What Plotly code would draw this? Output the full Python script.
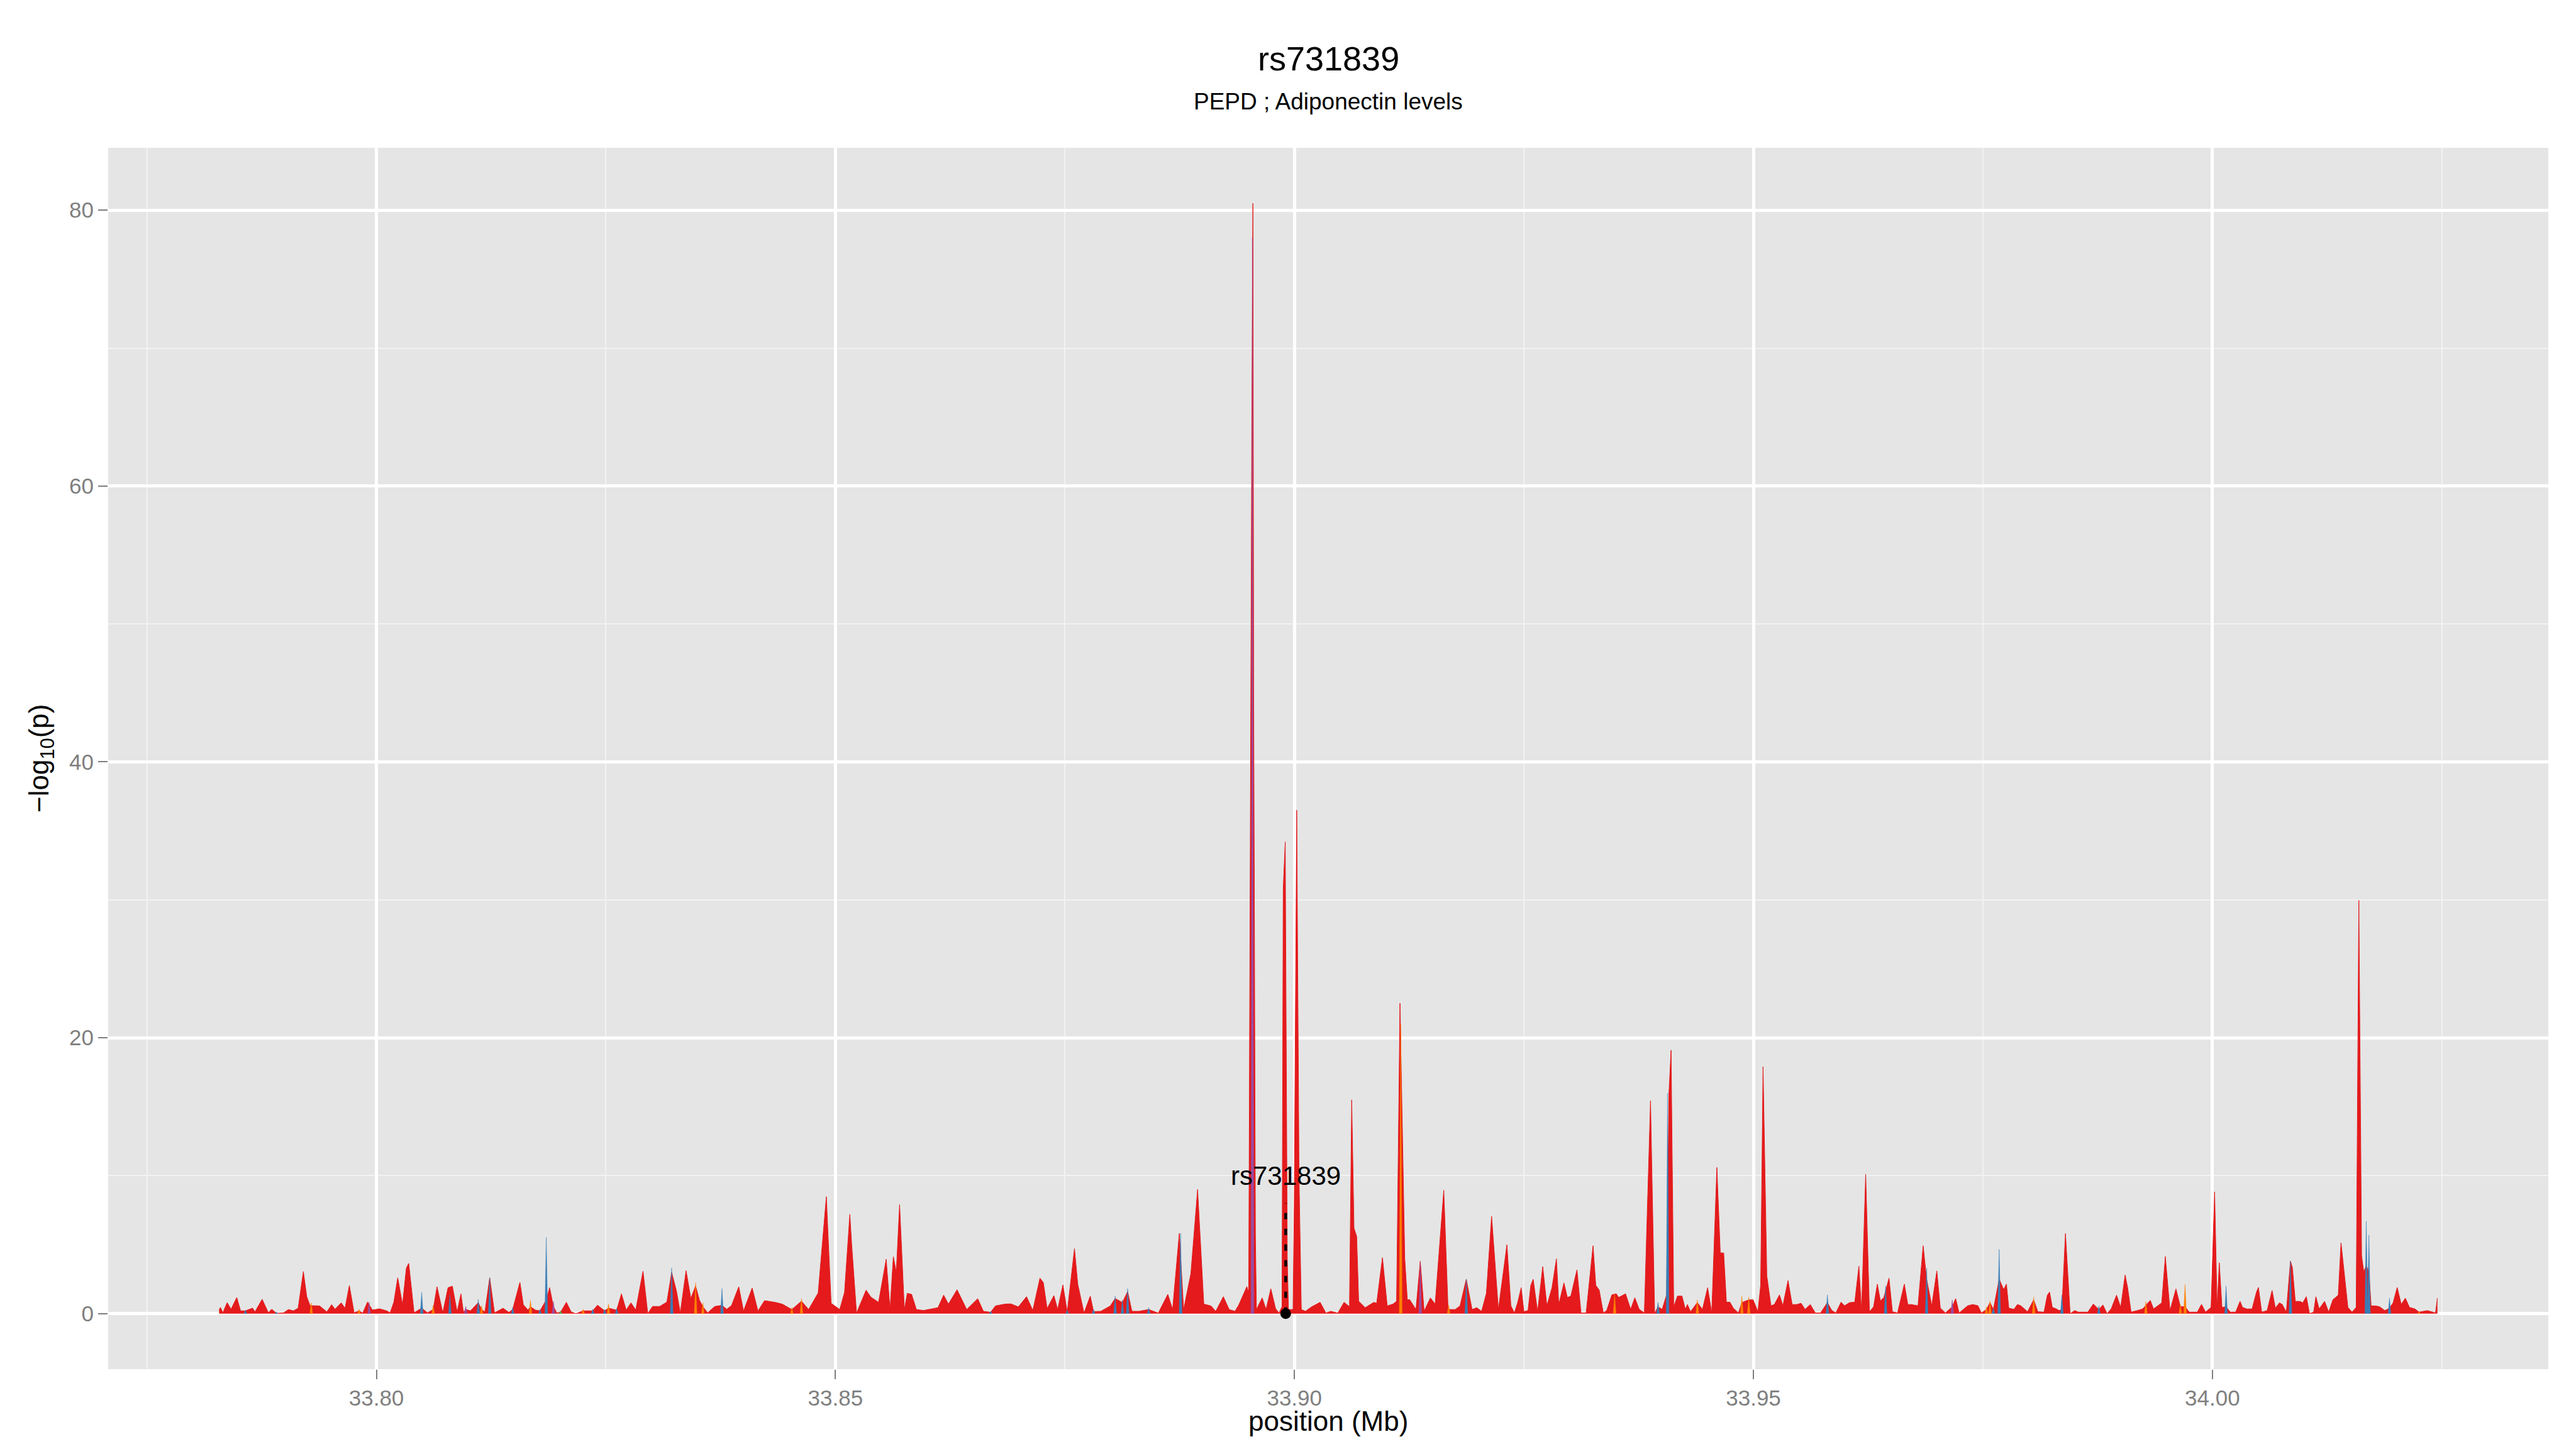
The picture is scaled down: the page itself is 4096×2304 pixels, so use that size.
import plotly.graph_objects as go

# ---------------- data ----------------
title_text = "rs731839"
subtitle_text = "PEPD ; Adiponectin levels"
x_title = "position (Mb)"
y_title = "\u2212log<sub>10</sub>(p)"

x_tick_vals = [33.80, 33.85, 33.90, 33.95, 34.00]
y_tick_vals = [0, 20, 40, 60, 80]

snp_name = "rs731839"
snp_pos = 33.89905
snp_logp = 0.0
snp_line_top = 8.0
snp_label_y = 10.0

# main (red) series: SNP position (Mb) and -log10(p)
red_pos = [
    33.78286, 33.78301, 33.78327, 33.78374, 33.78416, 33.78479, 33.78520, 33.78573,
    33.78651, 33.78677, 33.78755, 33.78823, 33.78859, 33.78911, 33.78990, 33.79042,
    33.79095, 33.79147, 33.79204, 33.79241, 33.79277, 33.79381, 33.79460, 33.79512,
    33.79549, 33.79616, 33.79658, 33.79705, 33.79757, 33.79810, 33.79851, 33.79903,
    33.79956, 33.80034, 33.80112, 33.80149, 33.80190, 33.80232, 33.80284, 33.80326,
    33.80352, 33.80389, 33.80410, 33.80493, 33.80556, 33.80618, 33.80660, 33.80723,
    33.80780, 33.80827, 33.80879, 33.80921, 33.80947, 33.80973, 33.81025, 33.81109,
    33.81145, 33.81182, 33.81234, 33.81286, 33.81380, 33.81443, 33.81484, 33.81563,
    33.81600, 33.81651, 33.81678, 33.81730, 33.81782, 33.81850, 33.81887, 33.81928,
    33.81965, 33.82006, 33.82069, 33.82121, 33.82173, 33.82252, 33.82356, 33.82408,
    33.82486, 33.82528, 33.82617, 33.82669, 33.82721, 33.82773, 33.82825, 33.82904,
    33.82956, 33.83008, 33.83086, 33.83164, 33.83216, 33.83269, 33.83310, 33.83373,
    33.83425, 33.83477, 33.83519, 33.83556, 33.83608, 33.83686, 33.83764, 33.83816,
    33.83868, 33.83947, 33.83999, 33.84093, 33.84156, 33.84228, 33.84343, 33.84421,
    33.84525, 33.84630, 33.84708, 33.84812, 33.84901, 33.84953, 33.85047, 33.85099,
    33.85157, 33.85177, 33.85230, 33.85334, 33.85386, 33.85470, 33.85553, 33.85595,
    33.85631, 33.85663, 33.85699, 33.85751, 33.85783, 33.85830, 33.85882, 33.85960,
    33.86117, 33.86179, 33.86231, 33.86325, 33.86430, 33.86550, 33.86612, 33.86691,
    33.86743, 33.86847, 33.86910, 33.86993, 33.87082, 33.87150, 33.87228, 33.87265,
    33.87306, 33.87380, 33.87421, 33.87478, 33.87525, 33.87604, 33.87640, 33.87708,
    33.87776, 33.87812, 33.87891, 33.87995, 33.88047, 33.88126, 33.88183, 33.88230,
    33.88308, 33.88412, 33.88517, 33.88621, 33.88673, 33.88746, 33.88793, 33.88872,
    33.88945, 33.89013, 33.89091, 33.89143, 33.89226, 33.89289, 33.89352, 33.89393,
    33.89482, 33.89502, 33.89530, 33.89536, 33.89548, 33.89556, 33.89575, 33.89586,
    33.89649, 33.89691, 33.89743, 33.89795, 33.89832, 33.89865, 33.89878, 33.89900,
    33.89922, 33.89935, 33.89985, 33.89998, 33.90025, 33.90050, 33.90075, 33.90120,
    33.90187, 33.90280, 33.90343, 33.90395, 33.90473, 33.90541, 33.90600, 33.90624,
    33.90649, 33.90678, 33.90700, 33.90771, 33.90865, 33.90896, 33.90959, 33.91011,
    33.91074, 33.91113, 33.91150, 33.91202, 33.91230, 33.91256, 33.91324, 33.91371,
    33.91413, 33.91481, 33.91533, 33.91627, 33.91674, 33.91752, 33.91804, 33.91872,
    33.91935, 33.91987, 33.92039, 33.92091, 33.92148, 33.92222, 33.92315, 33.92358,
    33.92396, 33.92433, 33.92470, 33.92500, 33.92545, 33.92575, 33.92601, 33.92649,
    33.92705, 33.92750, 33.92806, 33.92854, 33.92880, 33.92936, 33.92973, 33.93011,
    33.93078, 33.93122, 33.93178, 33.93253, 33.93283, 33.93320, 33.93365, 33.93402,
    33.93458, 33.93506, 33.93532, 33.93607, 33.93663, 33.93708, 33.93756, 33.93812,
    33.93879, 33.93924, 33.93961, 33.94006, 33.94054, 33.94080, 33.94103, 33.94132,
    33.94173, 33.94222, 33.94259, 33.94281, 33.94315, 33.94389, 33.94445, 33.94501,
    33.94546, 33.94602, 33.94639, 33.94676, 33.94706, 33.94744, 33.94781, 33.94837,
    33.94874, 33.94949, 33.94997, 33.95049, 33.95079, 33.95105, 33.95146, 33.95191,
    33.95228, 33.95284, 33.95321, 33.95377, 33.95422, 33.95470, 33.95519, 33.95563,
    33.95619, 33.95675, 33.95731, 33.95806, 33.95854, 33.95898, 33.95955, 33.95992,
    33.96048, 33.96104, 33.96149, 33.96178, 33.96223, 33.96264, 33.96309, 33.96350,
    33.96383, 33.96421, 33.96477, 33.96514, 33.96570, 33.96644, 33.96682, 33.96719,
    33.96793, 33.96849, 33.96887, 33.96943, 33.96998, 33.97036, 33.97092, 33.97166,
    33.97203, 33.97241, 33.97334, 33.97390, 33.97446, 33.97483, 33.97539, 33.97577,
    33.97614, 33.97677, 33.97726, 33.97756, 33.97782, 33.97838, 33.97876, 33.97913,
    33.97986, 33.98053, 33.98098, 33.98166, 33.98202, 33.98226, 33.98256, 33.98301,
    33.98330, 33.98360, 33.98399, 33.98435, 33.98450, 33.98500, 33.98539, 33.98584,
    33.98643, 33.98703, 33.98763, 33.98807, 33.98852, 33.98897, 33.98956, 33.99001,
    33.99049, 33.99076, 33.99114, 33.99180, 33.99240, 33.99275, 33.99323, 33.99359,
    33.99404, 33.99448, 33.99487, 33.99538, 33.99603, 33.99651, 33.99702, 33.99747,
    33.99836, 33.99881, 33.99925, 33.99985, 34.00024, 34.00051, 34.00075, 34.00104,
    34.00149, 34.00194, 34.00253, 34.00301, 34.00328, 34.00373, 34.00432, 34.00480,
    34.00501, 34.00537, 34.00596, 34.00650, 34.00686, 34.00730, 34.00760, 34.00805,
    34.00850, 34.00871, 34.00903, 34.00954, 34.00984, 34.01023, 34.01058, 34.01103,
    34.01127, 34.01163, 34.01222, 34.01267, 34.01312, 34.01371, 34.01401, 34.01446,
    34.01476, 34.01521, 34.01566, 34.01595, 34.01625, 34.01649, 34.01676, 34.01705,
    34.01729, 34.01774, 34.01819, 34.01878, 34.01929, 34.01968, 34.02013, 34.02057,
    34.02102, 34.02147, 34.02206, 34.02251, 34.02341, 34.02400, 34.02430, 34.02451,
]
red_logp = [
    0.26, 0.45, 0.06, 0.80, 0.32, 1.17, 0.20, 0.20,
    0.40, 0.13, 1.04, 0.06, 0.32, 0.02, 0.06, 0.30,
    0.20, 0.39, 3.05, 1.23, 0.58, 0.56, 0.13, 0.65,
    0.32, 0.78, 0.39, 2.04, 0.06, 0.20, 0.04, 0.84,
    0.26, 0.35, 0.20, 0.06, 0.84, 2.60, 0.65, 3.31,
    3.64, 1.43, 0.06, 0.40, 0.06, 0.30, 1.95, 0.06,
    1.88, 1.99, 0.13, 1.43, 0.13, 0.30, 0.20, 0.80,
    0.30, 0.13, 2.60, 0.06, 0.39, 0.09, 0.30, 2.27,
    0.65, 0.26, 0.50, 0.26, 0.20, 1.00, 1.88, 0.50,
    0.06, 0.10, 0.82, 0.13, 0.00, 0.20, 0.20, 0.61,
    0.20, 0.40, 0.25, 1.43, 0.26, 0.78, 0.26, 3.08,
    0.00, 0.52, 0.52, 0.84, 3.00, 1.62, 0.06, 3.12,
    1.10, 2.00, 0.97, 0.50, 0.06, 0.52, 0.60, 0.32,
    0.58, 1.95, 0.19, 1.86, 0.19, 0.94, 0.82, 0.69,
    0.30, 0.90, 0.30, 1.50, 8.48, 0.75, 0.30, 1.53,
    7.20, 5.00, 0.04, 1.70, 1.20, 0.82, 3.94, 0.30,
    4.13, 3.00, 7.90, 0.30, 1.47, 1.40, 0.30, 0.23,
    0.43, 1.34, 0.69, 1.73, 0.30, 1.08, 0.17, 0.10,
    0.56, 0.69, 0.71, 0.49, 1.23, 0.23, 2.57, 2.25,
    0.36, 1.31, 0.30, 2.08, 0.10, 4.71, 2.13, 0.04,
    1.27, 0.15, 0.17, 0.56, 1.10, 0.80, 1.60, 0.17,
    0.17, 0.30, 0.04, 1.40, 0.30, 5.82, 0.30, 2.90,
    9.00, 0.69, 0.56, 0.17, 1.23, 0.30, 0.17, 0.62,
    1.96, 1.50, 57.0, 65.0, 80.5, 45.0, 5.70, 0.30,
    1.14, 0.30, 1.80, 0.36, 0.04, 0.50, 30.8, 34.2,
    4.00, 0.30, 0.30, 7.90, 36.5, 10.0, 0.30, 0.17,
    0.49, 0.82, 0.04, 0.17, 0.04, 0.82, 0.50, 15.5,
    6.20, 5.60, 0.90, 0.43, 0.82, 0.75, 4.06, 0.56,
    0.69, 0.90, 22.5, 4.00, 1.00, 1.01, 0.30, 3.80,
    0.17, 1.14, 0.69, 8.94, 0.30, 0.30, 0.56, 2.50,
    0.30, 0.43, 0.17, 1.47, 7.05, 0.30, 5.00, 0.57,
    0.05, 0.83, 1.88, 0.14, 0.23, 2.05, 2.49, 0.14,
    3.41, 0.57, 1.88, 3.97, 0.66, 2.23, 1.17, 1.27,
    3.18, 0.05, 0.05, 4.92, 2.05, 1.71, 0.05, 0.23,
    1.36, 1.44, 1.17, 1.44, 0.31, 1.15, 0.31, 0.05,
    15.44, 0.00, 0.50, 0.31, 1.36, 16.0, 19.1, 0.49,
    1.27, 1.27, 0.31, 0.66, 0.14, 0.80, 0.31, 1.88,
    0.05, 10.6, 4.40, 4.40, 0.83, 0.83, 0.40, 0.05,
    0.80, 1.00, 1.00, 0.14, 2.05, 17.9, 2.75, 0.57,
    0.66, 1.36, 0.57, 2.40, 0.66, 0.66, 0.75, 0.31,
    0.66, 0.05, 0.05, 0.80, 0.23, 0.05, 0.83, 0.57,
    0.80, 0.83, 3.44, 0.14, 10.1, 0.14, 0.49, 2.14,
    0.92, 1.17, 2.57, 0.14, 0.05, 2.14, 0.66, 0.66,
    0.57, 4.92, 2.50, 0.57, 3.10, 0.40, 0.05, 0.50,
    1.09, 0.05, 0.57, 0.66, 0.57, 0.05, 0.30, 0.80,
    0.30, 2.50, 1.74, 2.14, 0.40, 0.31, 0.66, 0.57,
    0.14, 1.00, 0.14, 0.11, 1.34, 1.56, 0.45, 0.34,
    0.22, 0.30, 5.81, 2.00, 0.00, 0.22, 0.11, 0.11,
    0.11, 0.70, 0.30, 0.63, 0.00, 0.34, 1.34, 0.45,
    2.80, 1.90, 0.11, 0.22, 0.34, 0.60, 0.96, 0.34,
    0.56, 0.78, 4.14, 0.22, 1.79, 0.50, 0.50, 0.11,
    0.11, 0.67, 0.11, 0.45, 8.83, 0.45, 3.69, 0.45,
    0.50, 0.11, 0.11, 0.89, 0.45, 0.34, 0.34, 1.56,
    1.90, 0.11, 0.22, 1.68, 0.40, 0.78, 0.67, 0.11,
    3.80, 3.35, 0.89, 0.89, 0.78, 1.23, 0.00, 0.11,
    1.23, 0.34, 0.89, 0.11, 1.00, 1.34, 5.14, 2.24,
    0.45, 0.11, 0.45, 29.96, 4.20, 3.02, 3.50, 3.00,
    0.56, 0.56, 0.51, 0.22, 0.40, 0.78, 1.90, 0.67,
    1.12, 0.45, 0.34, 0.11, 0.22, 0.11, 0.05, 1.12,
]

blue_pos = [33.78573, 33.78911, 33.80493, 33.80800, 33.81109, 33.81234, 33.81484, 33.81782,
            33.81850, 33.82356, 33.82486, 33.82617, 33.83216, 33.83764, 33.86691, 33.87525,
            33.87812, 33.88047, 33.88126, 33.88183, 33.88412, 33.88760, 33.91872, 33.93961,
            33.94065, 33.95806, 33.96440, 33.96887, 33.97614, 33.97677, 33.98360, 33.98763,
            34.00149, 34.00850, 34.01676, 34.01705, 34.01929]
blue_logp = [0.25, 0.13, 1.56, 1.36, 1.04, 2.60, 0.45, 0.32,
             5.52, 0.32, 0.32, 0.39, 3.31, 1.82, 0.17, 0.25,
             0.30, 1.27, 1.00, 1.82, 0.43, 5.82, 2.50, 0.83,
             16.0, 1.36, 2.00, 3.30, 0.40, 4.66, 1.34, 0.56,
             2.00, 3.80, 6.70, 5.70, 1.12]

purple_pos = [33.79920, 33.80973, 33.81928, 33.89542, 33.91371, 33.97166]
purple_logp = [0.84, 0.52, 0.88, 78.0, 3.70, 1.00]

orange_pos = [33.79290, 33.79810, 33.80618, 33.81145, 33.81678, 33.82252, 33.82528, 33.83477,
              33.83556, 33.84525, 33.84630, 33.91158, 33.91680, 33.93488, 33.94389, 33.94874,
              33.94949, 33.97539, 33.97577, 33.98053, 33.99275, 33.99651, 33.99702, 34.02251]
orange_logp = [0.78, 0.32, 0.58, 0.58, 0.97, 0.32, 0.71, 2.25,
               0.78, 0.43, 1.10, 21.0, 0.60, 1.40, 1.00, 1.27,
               1.20, 0.49, 0.92, 1.20, 0.89, 0.67, 2.12, 0.15]

green_pos = [33.82006]
green_logp = [0.20]

assert len(red_pos) == len(red_logp)
assert len(blue_pos) == len(blue_logp)
assert len(orange_pos) == len(orange_logp)

# ---------------- style ----------------
RED = "#E41A1C"
BLUE = "#377EB8"
PURPLE = "#984EA3"
ORANGE = "#FF7F00"
GREEN = "#4DAF4A"
FONT = "Liberation Sans, Arial, Helvetica, sans-serif"
HALF_W = 0.00015  # half width of the coloured stripes (Mb)

W, H = 4096, 2304
ML, MR, MT, MB = 164, 52, 227, 135
PW, PH = W - ML - MR, H - MT - MB

fig = go.Figure()

fig.add_trace(go.Scatter(
    x=red_pos, y=red_logp, mode="lines", fill="tozeroy", fillcolor=RED,
    line=dict(color=RED, width=1), hoverinfo="skip", showlegend=False))

for pos, vals, col in [(blue_pos, blue_logp, BLUE), (orange_pos, orange_logp, ORANGE),
                       (purple_pos, purple_logp, PURPLE), (green_pos, green_logp, GREEN)]:
    xs, ys = [], []
    for p, v in zip(pos, vals):
        xs += [p - HALF_W, p, p + HALF_W, None]
        ys += [0, v, 0, None]
    fig.add_trace(go.Scatter(
        x=xs, y=ys, mode="lines", fill="toself", fillcolor=col,
        line=dict(color=col, width=0.5), hoverinfo="skip", showlegend=False))

fig.add_trace(go.Scatter(
    x=[snp_pos, snp_pos], y=[snp_logp, snp_line_top], mode="lines",
    line=dict(color="black", width=4.5, dash="10px,15px"),
    hoverinfo="skip", showlegend=False))
fig.add_trace(go.Scatter(
    x=[snp_pos], y=[snp_logp], mode="markers",
    marker=dict(color="black", size=17), hoverinfo="skip", showlegend=False))

xmin, xmax = min(red_pos), max(red_pos)
ymin, ymax = 0.0, max(red_logp)
xpad = 0.05 * (xmax - xmin)
ypad = 0.05 * (ymax - ymin)

axis_common = dict(
    showline=False, zeroline=False, ticks="outside", ticklen=15, tickwidth=2,
    tickcolor="#7F7F7F", tickfont=dict(family=FONT, size=35, color="#7F7F7F"),
    showgrid=True, gridcolor="white", gridwidth=4.8,
)

fig.update_layout(
    width=W, height=H,
    margin=dict(l=ML, r=MR, t=MT, b=MB, pad=0),
    paper_bgcolor="white", plot_bgcolor="#E5E5E5",
    font=dict(family=FONT, color="black"),
    showlegend=False,
    xaxis=dict(range=[xmin - xpad, xmax + xpad], tickmode="array", tickvals=x_tick_vals,
               ticktext=[f"{v:.2f}" for v in x_tick_vals],
               minor=dict(dtick=0.025, tick0=33.775, showgrid=True, gridcolor="#F2F2F2",
                          gridwidth=2.4, ticks=""),
               **axis_common),
    yaxis=dict(range=[ymin - ypad, ymax + ypad], tickmode="array", tickvals=y_tick_vals,
               ticktext=[str(v) for v in y_tick_vals],
               minor=dict(dtick=10, tick0=0, showgrid=True, gridcolor="#F2F2F2",
                          gridwidth=2.4, ticks=""),
               **axis_common),
)

annotations = [
    dict(text=title_text, x=0.5, y=1 + (MT - 85) / PH, xref="paper", yref="paper",
         showarrow=False, xanchor="center", yanchor="middle",
         font=dict(family=FONT, size=54, color="black")),
    dict(text=subtitle_text, x=0.5, y=1 + (MT - 154) / PH, xref="paper", yref="paper",
         showarrow=False, xanchor="center", yanchor="middle",
         font=dict(family=FONT, size=37, color="black")),
    dict(text=x_title, x=0.5, y=-(2251 - (H - MB)) / PH, xref="paper", yref="paper",
         showarrow=False, xanchor="center", yanchor="middle",
         font=dict(family=FONT, size=44, color="black")),
    dict(text=y_title, x=(57 - ML) / PW, y=0.5, xref="paper", yref="paper",
         showarrow=False, xanchor="center", yanchor="middle", textangle=-90,
         font=dict(family=FONT, size=44, color="black")),
    dict(text=snp_name, x=snp_pos, y=snp_label_y, xref="x", yref="y",
         showarrow=False, xanchor="center", yanchor="middle",
         font=dict(family=FONT, size=42, color="black")),
]
fig.update_layout(annotations=annotations)

fig.write_html("out.html")
